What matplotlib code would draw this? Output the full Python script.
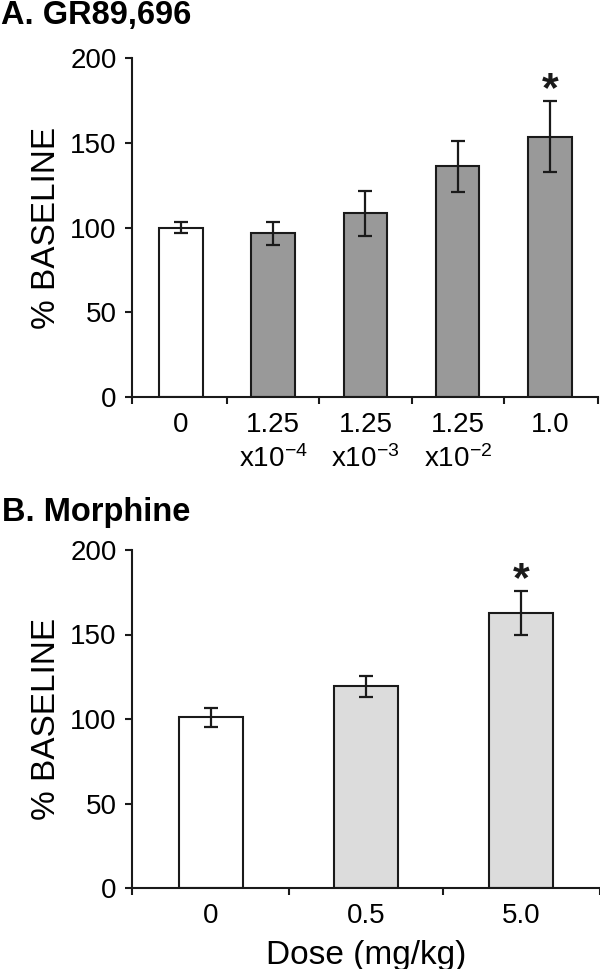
import matplotlib
matplotlib.use("Agg")
import matplotlib.pyplot as plt

plt.rcParams['font.family'] = ['Liberation Sans', 'DejaVu Sans']
plt.rcParams['mathtext.fontset'] = 'custom'
plt.rcParams['mathtext.rm'] = 'Liberation Sans'
plt.rcParams['mathtext.it'] = 'Liberation Sans:italic'
plt.rcParams['mathtext.bf'] = 'Liberation Sans:bold'

# Panel A data (GR89,696)
a_labels = ["0", "1.25\nx10$^{-4}$", "1.25\nx10$^{-3}$", "1.25\nx10$^{-2}$", "1.0"]
a_values = [100, 96.5, 108.5, 136, 153.5]
a_errors = [3, 7, 13.3, 15, 21]
a_sig = [False, False, False, False, True]

# Panel B data (Morphine)
b_labels = ["0", "0.5", "5.0"]
b_values = [101, 119.5, 163]
b_errors = [5.5, 6.2, 13]
b_sig = [False, False, True]

yticks = [0, 50, 100, 150, 200]

EDGE = '#1a1a1a'
FS = 20
LW = 1.5

fig = plt.figure(figsize=(6, 9.69), dpi=100)
axA = fig.add_axes([132/600, 1-397/969, 466/600, 339/969])
axB = fig.add_axes([132/600, 1-888/969, 468/600, 338/969])


def style(ax, labels, values, errors, sig, width, color, xlim):
    n = len(values)
    xs = list(range(n))
    colors = ['white'] + [color] * (n - 1)
    ax.bar(xs, values, width=width, color=colors, edgecolor=EDGE, linewidth=LW, zorder=2)
    ax.errorbar(xs, values, yerr=errors, fmt='none', ecolor=EDGE, elinewidth=1.6,
                capsize=4.7, capthick=1.6, zorder=3)
    for x, v, e, s in zip(xs, values, errors, sig):
        if s:
            ax.text(x, v + e - 5.5, '*', ha='center', va='bottom', fontsize=31,
                    fontweight='bold', color=EDGE)
    ax.set_xlim(*xlim)
    ax.set_ylim(0, 200)
    ax.set_yticks(yticks)
    ax.set_yticklabels([str(t) for t in yticks], fontsize=FS)
    bounds = [xlim[0]] + [i + 0.5 for i in range(n - 1)] + [xlim[1]]
    ax.set_xticks(bounds)
    ax.set_xticklabels([''] * len(bounds))
    ax.set_xticks(xs, minor=True)
    ax.set_xticklabels(labels, minor=True, fontsize=FS, linespacing=1.36)
    ax.tick_params(axis='x', which='major', length=5, width=LW, direction='out', color=EDGE)
    ax.tick_params(axis='x', which='minor', length=0, pad=10.5)
    ax.tick_params(axis='y', length=5, width=LW, direction='out', pad=6, color=EDGE)
    for sp in ['top', 'right']:
        ax.spines[sp].set_visible(False)
    for sp in ['left', 'bottom']:
        ax.spines[sp].set_linewidth(LW)
        ax.spines[sp].set_color(EDGE)
        ax.spines[sp].set_zorder(4)
    ax.set_ylabel('% BASELINE', fontsize=24, va='center')
    ax.yaxis.set_label_coords(-(132 - 47) / (ax.get_position().width * 600), 0.5)
    ax.patch.set_visible(False)


style(axA, a_labels, a_values, a_errors, a_sig, 0.47, '#999999', (-0.53, 4.52))
style(axB, b_labels, b_values, b_errors, b_sig, 0.41, '#dcdcdc', (-0.51, 2.51))

axB.set_xlabel('Dose (mg/kg)', fontsize=24, labelpad=8)

fig.text(0.002, 1 - 24/969, 'A. GR89,696', fontsize=23.5, fontweight='bold', va='baseline', ha='left')
fig.text(0.004, 1 - 521/969, 'B. Morphine', fontsize=23.5, fontweight='bold', va='baseline', ha='left')

fig.savefig('out.png', dpi=100)
